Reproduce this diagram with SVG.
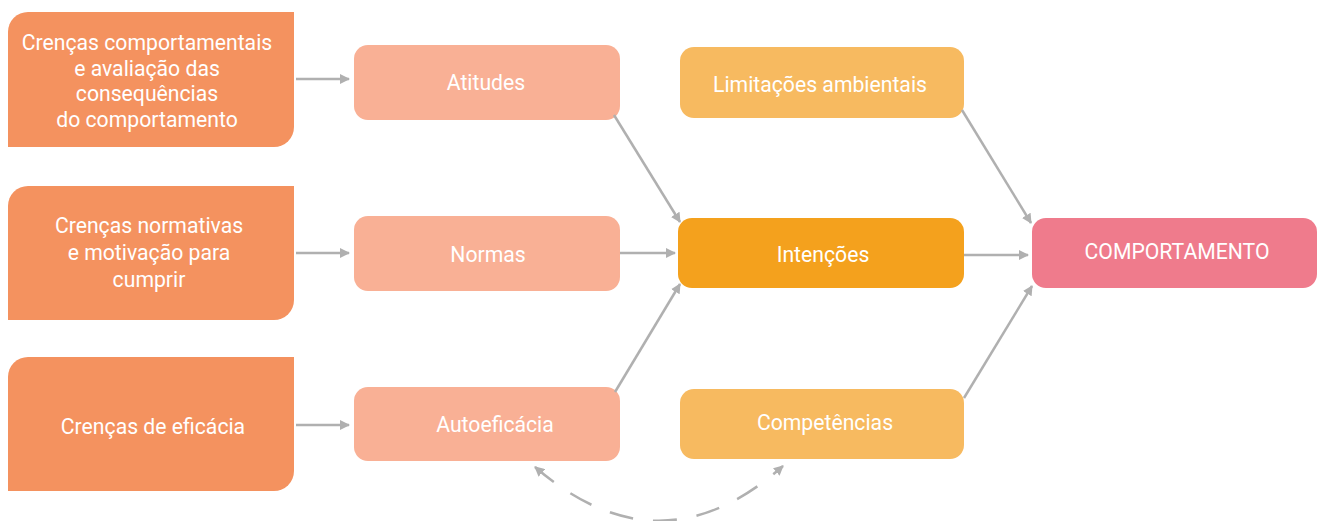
<svg xmlns="http://www.w3.org/2000/svg" width="1317" height="521" viewBox="0 0 1317 521">
<style>
.t{font-family:Roboto,"Liberation Sans",sans-serif;font-size:21.2px;fill:#fff;text-anchor:middle}
.src{fill:#F4925F}
.mid{fill:#F9B095}
.env{fill:#F7BA60}
.int{fill:#F4A11D}
.beh{fill:#EF7B8C}
.c{stroke:#B0B0B0;stroke-width:2.5;fill:none;marker-end:url(#ah)}
.d{stroke:#B0B0B0;stroke-width:2.5;fill:none;stroke-dasharray:24 20;marker-start:url(#ahs);marker-end:url(#ah)}
</style>
<defs>
<marker id="ah" viewBox="0 0 10 10" refX="9" refY="5" markerWidth="4" markerHeight="4" orient="auto" markerUnits="strokeWidth">
<path d="M0,0 L10,5 L0,10 z" fill="#B0B0B0"/>
</marker>
<marker id="ahs" viewBox="0 0 10 10" refX="1" refY="5" markerWidth="4" markerHeight="4" orient="auto" markerUnits="strokeWidth">
<path d="M10,0 L0,5 L10,10 z" fill="#B0B0B0"/>
</marker>
</defs>
<g id="n1"><path class="src" d="M28,12 H294 V127 A20,20 0 0 1 274,147 H8 V32 A20,20 0 0 1 28,12 z"/>
<text class="t"><tspan x="147" y="50">Crenças comportamentais</tspan><tspan x="147" y="76">e avaliação das</tspan><tspan x="147" y="101">consequências</tspan><tspan x="147" y="127">do comportamento</tspan></text></g>
<g id="n2"><path class="src" d="M28,186 H294 V300 A20,20 0 0 1 274,320 H8 V206 A20,20 0 0 1 28,186 z"/>
<text class="t"><tspan x="149" y="233">Crenças normativas</tspan><tspan x="149" y="260">e motivação para</tspan><tspan x="149" y="287">cumprir</tspan></text></g>
<g id="n3"><path class="src" d="M28,357 H294 V471 A20,20 0 0 1 274,491 H8 V377 A20,20 0 0 1 28,357 z"/>
<text class="t" x="153" y="434">Crenças de eficácia</text></g>
<g id="atitudes"><rect class="mid" x="354" y="45" width="266" height="75" rx="14"/><text class="t" x="486" y="90">Atitudes</text></g>
<g id="normas"><rect class="mid" x="354" y="216" width="266" height="75" rx="14"/><text class="t" x="488" y="262">Normas</text></g>
<g id="autoeficacia"><rect class="mid" x="354" y="387" width="266" height="74" rx="14"/><text class="t" x="495" y="432">Autoeficácia</text></g>
<g id="limitacoes"><rect class="env" x="680" y="47" width="284" height="71" rx="14"/><text class="t" x="820" y="92">Limitações ambientais</text></g>
<g id="intencoes"><rect class="int" x="678" y="218" width="286" height="70" rx="14"/><text class="t" x="823" y="262">Intenções</text></g>
<g id="competencias"><rect class="env" x="680" y="389" width="284" height="70" rx="14"/><text class="t" x="825" y="430">Competências</text></g>
<g id="comportamento"><rect class="beh" x="1032" y="218" width="285" height="70" rx="14"/><text class="t" x="1177" y="259">COMPORTAMENTO</text></g>
<g id="connectors">
<line class="c" x1="296" y1="79" x2="349" y2="79"/>
<line class="c" x1="296" y1="253" x2="349" y2="253"/>
<line class="c" x1="296" y1="425" x2="349" y2="425"/>
<line class="c" x1="614" y1="115" x2="680" y2="222"/>
<line class="c" x1="620" y1="253" x2="675" y2="253"/>
<line class="c" x1="615" y1="392" x2="680" y2="284"/>
<line class="c" x1="962" y1="110" x2="1031" y2="223"/>
<line class="c" x1="964" y1="255" x2="1028" y2="255"/>
<line class="c" x1="964" y1="398" x2="1032" y2="286"/>
<path class="d" d="M535,467 Q660,575 783,466"/>
</g>
</svg>
